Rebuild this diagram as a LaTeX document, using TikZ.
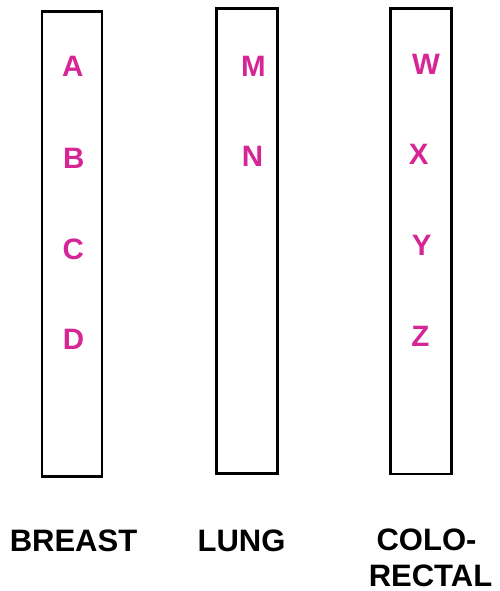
\documentclass[tikz,border=0pt]{standalone}
\usepackage{fontspec}
\setmainfont{Liberation Sans}
\definecolor{mag}{RGB}{214,38,150}
\begin{document}
\begin{tikzpicture}[x=1pt,y=-1pt,
  col/.style={draw=black, line width=2.6pt, inner sep=0pt},
  letter/.style={text=mag, font=\fontsize{29.5}{34}\selectfont\bfseries, inner sep=0pt},
  lab/.style={text=black, font=\fontsize{31}{37}\selectfont\bfseries, inner sep=0pt}]
\useasboundingbox (0,0) rectangle (500,591);
\node[col, minimum width=60pt, minimum height=465pt] (c1) at (71.8,244) {};
\node[col, minimum width=61pt, minimum height=465.5pt] (c2) at (246.8,241) {};
\node[col, minimum width=61pt, minimum height=465.7pt] (c3) at (421.1,241.2) {};
\node[letter] (A) at (72.7,66.5) {A};
\node[letter] (B) at (73.7,158.3) {B};
\node[letter] (C) at (73.3,249.5) {C};
\node[letter] (D) at (73.5,339.5) {D};
\node[letter] (M) at (253.3,66.3) {M};
\node[letter] (N) at (252.5,156.7) {N};
\node[letter] (W) at (426,64.2) {W};
\node[letter] (X) at (418.7,154.3) {X};
\node[letter] (Y) at (421.7,245.7) {Y};
\node[letter] (Z) at (420.5,336.7) {Z};
\node[lab] (breast) at (73.5,540.5) {BREAST};
\node[lab] (lung) at (241.5,540.5) {LUNG};
\node[lab] (colo) at (426.5,540.3) {COLO-};
\node[lab] (rectal) at (430.5,575.5) {RECTAL};
\end{tikzpicture}
\end{document}
